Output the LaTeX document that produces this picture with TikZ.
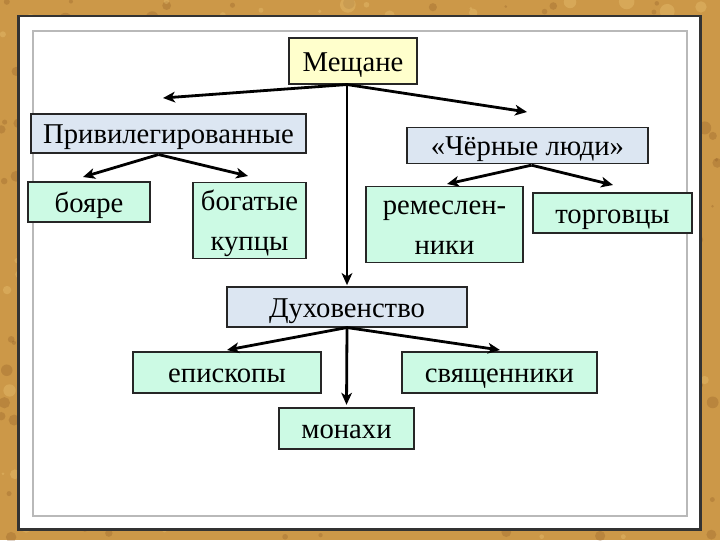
\documentclass[tikz,border=0pt]{standalone}
\usepackage{fontspec}
\setmainfont{Liberation Serif}
\usetikzlibrary{arrows.meta,calc}
\definecolor{parch}{RGB}{204,152,72}
\definecolor{parchdark}{RGB}{130,80,30}
\definecolor{parchlight}{RGB}{236,200,120}
\definecolor{yel}{RGB}{255,255,204}
\definecolor{bluegray}{RGB}{220,230,242}
\definecolor{mint}{RGB}{204,250,228}
\newcommand\lowtxt{\rule[-6pt]{0pt}{27.2pt}}
\tikzset{
  box/.style={draw=black!85, line width=0.8pt, inner sep=0pt, align=center,
    font=\fontsize{21.5}{29.5}\selectfont},
  lvlA/.style={box, fill=yel},
  lvlB/.style={box, fill=bluegray},
  lvlC/.style={box, fill=mint},
  arr/.style={line width=2.1pt, -{Stealth[length=9pt,width=8pt,inset=2.5pt]}, black}
}
\begin{document}
\begin{tikzpicture}[x=0.75pt,y=-0.75pt]
\useasboundingbox (0,0) rectangle (720,540);
% parchment background
\fill[parch] (0,0) rectangle (720,540);
\pgfmathsetseed{11}
\foreach \i in {1,...,350}{
  \fill[parchdark,opacity=0.25] ({rnd*720},{rnd*540}) circle[radius={(1+rnd*4)*1pt}];
}
\foreach \i in {1,...,250}{
  \fill[parchlight,opacity=0.35] ({rnd*720},{rnd*540}) circle[radius={(1+rnd*5)*1pt}];
}
% panel
\fill[black!80] (17,14.5) rectangle (701.5,530.5);
\fill[white] (19.5,17) rectangle (699,528);
\draw[gray!55, line width=1.8pt] (33,31) rectangle (687,516);

% nodes
\node[lvlA, minimum width=96pt, minimum height=34.5pt] (m) at (353,61) {\lowtxt Мещане};
\node[lvlB, minimum width=206.25pt, minimum height=29.25pt] (p) at (168.5,133.5) {\lowtxt Привилегированные};
\node[lvlB, minimum width=180.75pt, minimum height=24.75pt] (c) at (527.5,145.5) {\lowtxt «Чёрные люди»};
\node[lvlC, minimum width=91.5pt, minimum height=30pt] (b) at (89,202) {\lowtxt бояре};
\node[lvlC, minimum width=84.75pt, minimum height=56.25pt] (k) at (249.5,220.5) {\lowtxt богатые\\\lowtxt купцы};
\node[lvlC, minimum width=117.75pt, minimum height=56.25pt] (r) at (444.5,224.5) {\lowtxt ремеслен-\\\lowtxt ники};
\node[lvlC, minimum width=119.25pt, minimum height=30pt] (t) at (612.5,213) {\lowtxt торговцы};
\node[lvlB, minimum width=180pt, minimum height=30pt] (d) at (347,307) {\lowtxt Духовенство};
\node[lvlC, minimum width=141pt, minimum height=30.75pt] (e) at (227,372.5) {\lowtxt епископы};
\node[lvlC, minimum width=146.25pt, minimum height=30.75pt] (s) at (499.5,372.5) {\lowtxt священники};
\node[lvlC, minimum width=101.25pt, minimum height=30.75pt] (mo) at (346.5,428.5) {\lowtxt монахи};

% arrow tip coordinates
\coordinate (mL) at (163,98);
\coordinate (mR) at (527,112);
\coordinate (pL) at (83,177);
\coordinate (pR) at (248,176);
\coordinate (cL) at (447,184);
\coordinate (cR) at (613,185);
\coordinate (dL) at (227,350);
\coordinate (dR) at (500,350);

% connectors
\draw[arr] ($(m.south)+(-6,0)$) -- (mL);
\draw[arr] ($(m.south)+(-6,0)$) -- (mR);
\draw[arr, shorten >=1pt] ($(m.south)+(-6,0)$) -- (d.north);
\draw[arr] ($(p.south)+(-10,1)$) -- (pL);
\draw[arr] ($(p.south)+(-10,1)$) -- (pR);
\draw[arr] ($(c.south)+(4,1)$) -- (cL);
\draw[arr] ($(c.south)+(4,1)$) -- (cR);
\draw[arr] (d.south) -- (dL);
\draw[arr] (d.south) -- (dR);
\draw[arr, shorten >=2pt] (d.south) -- (mo.north);
\end{tikzpicture}
\end{document}
